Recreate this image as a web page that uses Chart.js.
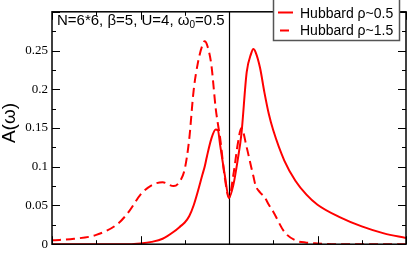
<!DOCTYPE html>
<html>
<head>
<meta charset="utf-8">
<script src="https://cdn.jsdelivr.net/npm/chart.js"></script>
<style>
  body { margin: 0; background: #fff; }
  #wrap { width: 409px; height: 256px; }
</style>
</head>
<body>
<div id="wrap"><canvas id="specChart" width="409" height="256"></canvas></div>
<script>
  // omega grid (x axis)
  var omega = [-4, -3.5, -3, -2.5, -2.25, -2, -1.75, -1.5, -1.25, -1.1, -1, -0.9, -0.8, -0.7, -0.6, -0.55, -0.5, -0.4, -0.3, -0.25, -0.2, -0.1,
    0, 0.1, 0.2, 0.28, 0.4, 0.5, 0.55, 0.6, 0.7, 0.8, 0.9, 1, 1.25, 1.5, 1.75, 2, 2.5, 3, 3.5, 4];
  // Hubbard rho~0.5 (solid)
  var aLow = [0, 0, 0, 0, 0, 0.001, 0.003, 0.007, 0.016, 0.023, 0.028, 0.036, 0.05, 0.069, 0.09, 0.1, 0.113, 0.136, 0.148, 0.147, 0.128, 0.091,
    0.06, 0.077, 0.11, 0.142, 0.222, 0.246, 0.252, 0.248, 0.228, 0.196, 0.168, 0.147, 0.108, 0.082, 0.064, 0.051, 0.035, 0.023, 0.014, 0.008];
  // Hubbard rho~1.5 (dashed)
  var aHigh = [0.005, 0.007, 0.012, 0.027, 0.043, 0.064, 0.076, 0.08, 0.075, 0.082, 0.097, 0.135, 0.198, 0.235, 0.257, 0.262, 0.258, 0.232, 0.175, 0.155, 0.137, 0.088,
    0.06, 0.09, 0.13, 0.15, 0.125, 0.1, 0.088, 0.076, 0.067, 0.061, 0.051, 0.042, 0.016, 0.005, 0.002, 0.001, 0, 0, 0, 0];
  var seriesNames = ['Hubbard \u03c1~0.5', 'Hubbard \u03c1~1.5'];
  var yTicks = [0, 0.05, 0.1, 0.15, 0.2, 0.25];

  function toPoints(ys) {
    var pts = [];
    for (var i = 0; i < omega.length; i++) {
      pts.push({x: omega[i], y: ys[i]});
    }
    return pts;
  }

  var sansFont = '"Liberation Sans", Arial, sans-serif';

  // frame, inward ticks, zero line, label text, legend box
  var decorPlugin = {
    id: 'decor',
    beforeDatasetsDraw: function(chart) {
      var ctx = chart.ctx, area = chart.chartArea;
      var x0 = chart.scales.x.getPixelForValue(0);
      ctx.save();
      ctx.strokeStyle = '#000';
      ctx.lineWidth = 1.2;
      ctx.beginPath();
      ctx.moveTo(Math.round(x0) + 0.5, area.top);
      ctx.lineTo(Math.round(x0) + 0.5, area.bottom);
      ctx.stroke();
      ctx.restore();
    },
    afterDraw: function(chart) {
      var ctx = chart.ctx, area = chart.chartArea;
      var xs = chart.scales.x, ys = chart.scales.y;
      ctx.save();
      ctx.strokeStyle = '#000';
      ctx.lineWidth = 1.5;
      ctx.strokeRect(area.left, area.top, area.right - area.left, area.bottom - area.top);

      ctx.lineWidth = 1;
      ctx.beginPath();
      for (var v = -4; v <= 4; v++) {
        var px = Math.round(xs.getPixelForValue(v)) + 0.5;
        var len = (v % 2 === 0) ? 8 : 4;
        ctx.moveTo(px, area.bottom); ctx.lineTo(px, area.bottom - len);
        ctx.moveTo(px, area.top); ctx.lineTo(px, area.top + len);
      }
      for (var k = 0; k <= 12; k++) {
        var py = Math.round(ys.getPixelForValue(k * 0.025)) + 0.5;
        var ylen = (k % 2 === 0) ? 8 : 4;
        ctx.moveTo(area.left, py); ctx.lineTo(area.left + ylen, py);
        ctx.moveTo(area.right, py); ctx.lineTo(area.right - ylen, py);
      }
      ctx.stroke();

      // y title
      ctx.fillStyle = '#000';
      ctx.save();
      ctx.translate(10, 123);
      ctx.rotate(-Math.PI / 2);
      ctx.font = '19px ' + sansFont;
      ctx.textAlign = 'center';
      ctx.textBaseline = 'middle';
      ctx.fillText('A(\u03c9)', 0, 0);
      ctx.restore();

      // parameters label
      ctx.font = '15px ' + sansFont;
      ctx.textBaseline = 'alphabetic';
      ctx.textAlign = 'left';
      var tx = 57, ty = 25;
      var s1 = 'N=6*6, \u03b2=5, U=4, \u03c9';
      ctx.fillText(s1, tx, ty);
      tx += ctx.measureText(s1).width;
      ctx.font = '10px ' + sansFont;
      ctx.fillText('0', tx, ty + 3);
      tx += ctx.measureText('0').width;
      ctx.font = '15px ' + sansFont;
      ctx.fillText('=0.5', tx, ty);

      // legend
      ctx.fillStyle = '#fff';
      ctx.fillRect(273.5, -1, 126, 41.5);
      ctx.strokeStyle = '#555';
      ctx.lineWidth = 1.5;
      ctx.strokeRect(273.5, -1, 126, 41.5);
      ctx.strokeStyle = '#ff0000';
      ctx.lineWidth = 2;
      ctx.beginPath();
      ctx.moveTo(278, 12.5); ctx.lineTo(293, 12.5);
      ctx.moveTo(280, 30.5); ctx.lineTo(289, 30.5);
      ctx.stroke();
      ctx.fillStyle = '#000';
      ctx.font = '14px ' + sansFont;
      ctx.fillText(seriesNames[0], 300, 17.5);
      ctx.fillText(seriesNames[1], 300, 34.5);
      ctx.restore();
    }
  };

  var ctx2 = document.getElementById('specChart').getContext('2d');
  var chart = new Chart(ctx2, {
    type: 'line',
    data: {
      datasets: [
        {
          label: seriesNames[0],
          data: toPoints(aLow),
          borderColor: '#ff0000',
          borderWidth: 2,
          pointRadius: 0,
          cubicInterpolationMode: 'monotone',
          fill: false
        },
        {
          label: seriesNames[1],
          data: toPoints(aHigh),
          borderColor: '#ff0000',
          borderWidth: 2,
          borderDash: [9, 5],
          pointRadius: 0,
          cubicInterpolationMode: 'monotone',
          fill: false
        }
      ]
    },
    options: {
      responsive: false,
      animation: false,
      devicePixelRatio: 1,
      layout: { padding: { top: 2, right: 3, left: 0, bottom: 0 } },
      plugins: { legend: { display: false }, tooltip: { enabled: false } },
      scales: {
        x: {
          type: 'linear',
          min: -4,
          max: 4,
          grid: { display: false },
          border: { display: false },
          ticks: { display: false },
          afterFit: function(scale) { scale.height = 6; }
        },
        y: {
          min: 0,
          max: 0.3,
          grid: { display: false, drawTicks: false },
          border: { display: false },
          afterBuildTicks: function(scale) {
            scale.ticks = yTicks.map(function(v) { return {value: v}; });
          },
          ticks: {
            padding: 4,
            color: '#000',
            font: { family: '"Liberation Serif", "Times New Roman", serif', size: 13 },
            callback: function(v) { return String(Number(v.toFixed(2))); }
          },
          afterFit: function(scale) { scale.width = 52; }
        }
      }
    },
    plugins: [decorPlugin]
  });
</script>
</body>
</html>
